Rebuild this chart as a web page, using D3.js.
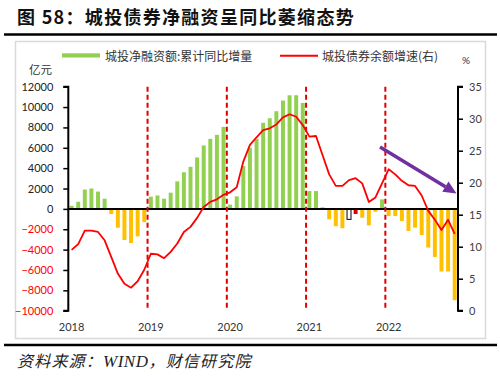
<!DOCTYPE html>
<html><head><meta charset="utf-8">
<script src="https://cdn.jsdelivr.net/npm/d3@7"></script>
<style>
html,body{margin:0;padding:0;background:#fff;}
svg{display:block;}
</style></head>
<body>
<svg id="chart" width="500" height="377"></svg>
<script>
// ---------- data ----------
const months = [
 "2018-01","2018-02","2018-03","2018-04","2018-05","2018-06","2018-07","2018-08","2018-09","2018-10","2018-11","2018-12",
 "2019-01","2019-02","2019-03","2019-04","2019-05","2019-06","2019-07","2019-08","2019-09","2019-10","2019-11","2019-12",
 "2020-01","2020-02","2020-03","2020-04","2020-05","2020-06","2020-07","2020-08","2020-09","2020-10","2020-11","2020-12",
 "2021-01","2021-02","2021-03","2021-04","2021-05","2021-06","2021-07","2021-08","2021-09","2021-10","2021-11","2021-12",
 "2022-01","2022-02","2022-03","2022-04","2022-05","2022-06","2022-07","2022-08","2022-09","2022-10","2022-11"
];
// 城投净融资额:累计同比增量 (亿元)
const netFinancingYoY = [
 300, 700, 1900, 2000, 1700, 1000, -500, -1850, -3050, -3350, -2700, -1300,
 1200, 1320, 1000, 1590, 2700, 3600, 4130, 5050, 6230, 6880, 7270, 8050,
 420, 1230, 4200, 6000, 6880, 8450, 8900, 9590, 10640, 11160, 11160, 10400,
 1750, 1750, 150, -1030, -1700, -1900, -1030, -500, -870, -1620, -280, 930,
 -700, -700, -1200, -2170, -1840, -2570, -3800, -4720, -6150, -6150, -8970
];
// 城投债券余额增速 (%, 右轴)
const balanceGrowth = [
 9.5, 10.4, 12.5, 12.5, 12.3, 11.0, 8.4, 5.8, 4.2, 3.6, 4.6, 6.4,
 8.9, 8.8, 8.2, 9.2, 10.5, 12.3, 13.1, 14.5, 16.2, 17.0, 17.4, 18.1,
 18.5, 19.3, 23.3, 25.9, 27.1, 28.2, 28.5, 29.1, 30.2, 30.7, 30.3, 29.0,
 27.2, 27.3, 24.3, 21.3, 19.5, 19.5, 20.4, 20.7, 19.9, 17.0, 17.7, 19.9,
 22.1, 21.3, 20.3, 19.6, 19.5, 18.0, 15.6, 14.2, 12.6, 14.2, 12.0
];
const yearLabels = ["2018","2019","2020","2021","2022"];
const leftTicks = [12000,10000,8000,6000,4000,2000,0,-2000,-4000,-6000,-8000,-10000];
const rightTicks = [35,30,25,20,15,10,5,0];
const seriesNames = ["城投净融资额:累计同比增量","城投债券余额增速(右)"];

// ---------- styles ----------
const GREEN = "#92D050", ORANGE = "#FFC000", RED = "#FF0000";
const specialBarStyle = {"2021-07": {fill:"#ffffff", stroke:"#000000"}, "2021-08": {fill:"#E00000", stroke:"none"}};
const cjk = "'Noto Sans CJK SC','Noto Sans',sans-serif";
const num = "Lato,'Open Sans',sans-serif";

const svg = d3.select("#chart");
svg.append("rect").attr("width",500).attr("height",377).attr("fill","#fff");

// title
svg.append("text").attr("x",17).attr("y",24)
  .attr("font-family",cjk).attr("font-weight",700).attr("font-size",18)
  .attr("letter-spacing",1.3).attr("fill","#111")
  .text("图 58：城投债券净融资呈同比萎缩态势");
svg.append("line").attr("x1",4).attr("x2",497).attr("y1",34.5).attr("y2",34.5)
  .attr("stroke","#000").attr("stroke-width",2.5);

// chart border
svg.append("rect").attr("x",15.5).attr("y",41.5).attr("width",470).attr("height",297)
  .attr("fill","none").attr("stroke","#d9d9d9").attr("stroke-width",1.5);

// scales
const x0 = 68.3, x1 = 458;
const x = d3.scaleBand().domain(months).range([x0,x1]).paddingInner(0.4).paddingOuter(0.2);
const yL = d3.scaleLinear().domain([-10000,12000]).range([310.7,86.7]);
const yR = d3.scaleLinear().domain([0,35]).range([310.7,86.7]);
const step = x.step(), bw = x.bandwidth();

// bars
svg.append("g").selectAll("rect").data(months).join("rect")
  .attr("x", d => x(d))
  .attr("width", bw)
  .attr("y", (d,i) => yL(Math.max(0, netFinancingYoY[i])))
  .attr("height", (d,i) => Math.abs(yL(netFinancingYoY[i]) - yL(0)))
  .attr("fill", (d,i) => specialBarStyle[d] ? specialBarStyle[d].fill : (netFinancingYoY[i] >= 0 ? GREEN : ORANGE))
  .attr("stroke", d => specialBarStyle[d] ? specialBarStyle[d].stroke : "none")
  .attr("stroke-width", 1);

// zero line
svg.append("line").attr("x1",x0).attr("x2",x1).attr("y1",yL(0)).attr("y2",yL(0))
  .attr("stroke","#000").attr("stroke-width",2);

// year dashed lines
const yearStarts = yearLabels.slice(1).map(y => x(y+"-01") - step*0.2);
svg.append("g").selectAll("line").data(yearStarts).join("line")
  .attr("x1", d=>d).attr("x2", d=>d).attr("y1", yL(12000)).attr("y2", yL(-10000))
  .attr("stroke","#E00000").attr("stroke-width",2).attr("stroke-dasharray","5,3");

// line series
const line = d3.line().x((d,i)=> x(months[i]) + bw/2).y(d => yR(d));
svg.append("path").datum(balanceGrowth).attr("d", line)
  .attr("fill","none").attr("stroke",RED).attr("stroke-width",1.8).attr("stroke-linejoin","round");

// left axis
const gL = svg.append("g").attr("transform",`translate(${x0},0)`)
  .call(d3.axisLeft(yL).tickValues(leftTicks).tickSize(5).tickPadding(10).tickFormat(d3.format("d")));
gL.select(".domain").attr("stroke","#000").attr("stroke-width",2).attr("d",`M-5,${yL(12000)}H0V${yL(-10000)}H-5`);
gL.selectAll(".tick line").attr("stroke","#000").attr("stroke-width",1.5);
gL.selectAll(".tick text").attr("font-family",num).attr("font-size",11)
  .attr("fill", d => d < 0 ? RED : "#222");

// right axis
const gR = svg.append("g").attr("transform",`translate(${x1},0)`)
  .call(d3.axisRight(yR).tickValues(rightTicks).tickSize(5).tickPadding(6));
gR.select(".domain").attr("stroke","#000").attr("stroke-width",2).attr("d",`M5,${yR(35)}H0V${yR(0)}H5`);
gR.selectAll(".tick line").attr("stroke","#000").attr("stroke-width",1.5);
gR.selectAll(".tick text").attr("font-family",num).attr("font-size",11).attr("fill","#404040");

// year labels
svg.append("g").selectAll("text").data(yearLabels).join("text")
  .attr("x", d => x(d+"-01") + bw/2).attr("y", 331)
  .attr("text-anchor","middle").attr("font-family",num).attr("font-size",11).attr("fill","#333")
  .text(d => d);

// units
svg.append("text").attr("x",29).attr("y",74).attr("font-family",cjk).attr("font-size",11.5).attr("fill","#333").text("亿元");
svg.append("text").attr("x",462).attr("y",64).attr("font-family",num).attr("font-size",10).attr("fill","#333").text("%");

// legend
svg.append("rect").attr("x",62).attr("y",53.3).attr("width",38).attr("height",4.2).attr("fill",GREEN);
svg.append("text").attr("x",105).attr("y",60.5).attr("font-family",cjk).attr("font-size",12).attr("fill","#333").text(seriesNames[0]);
svg.append("line").attr("x1",280).attr("x2",318).attr("y1",55.7).attr("y2",55.7).attr("stroke",RED).attr("stroke-width",2);
svg.append("text").attr("x",322).attr("y",60.5).attr("font-family",cjk).attr("font-size",12).attr("fill","#333").text(seriesNames[1]);

// purple trend arrow
const P = "#7030A0";
const ax1 = 380, ay1 = 147, ax2 = 456.5, ay2 = 193.5;
const ang = Math.atan2(ay2-ay1, ax2-ax1);
const hl = 13, hw = 6;
const bx = ax2 - hl*Math.cos(ang), by = ay2 - hl*Math.sin(ang);
svg.append("line").attr("x1",ax1).attr("y1",ay1).attr("x2",bx).attr("y2",by)
  .attr("stroke",P).attr("stroke-width",3.5);
svg.append("path").attr("d",`M${ax2},${ay2}L${bx - hw*Math.sin(ang)},${by + hw*Math.cos(ang)}L${bx + hw*Math.sin(ang)},${by - hw*Math.cos(ang)}Z`)
  .attr("fill",P);

// footer
svg.append("line").attr("x1",4).attr("x2",497).attr("y1",345).attr("y2",345)
  .attr("stroke","#000").attr("stroke-width",2.5);
const ft = svg.append("text").attr("x",17).attr("y",367).attr("font-family",cjk).attr("font-size",16)
  .attr("font-style","italic").attr("letter-spacing",1.2).attr("fill","#222");
ft.append("tspan").text("资料来源：");
ft.append("tspan").attr("font-family","'Liberation Serif',serif").attr("font-size",17).attr("letter-spacing",0.5).text("WIND");
ft.append("tspan").text("，财信研究院");
</script>
</body></html>
